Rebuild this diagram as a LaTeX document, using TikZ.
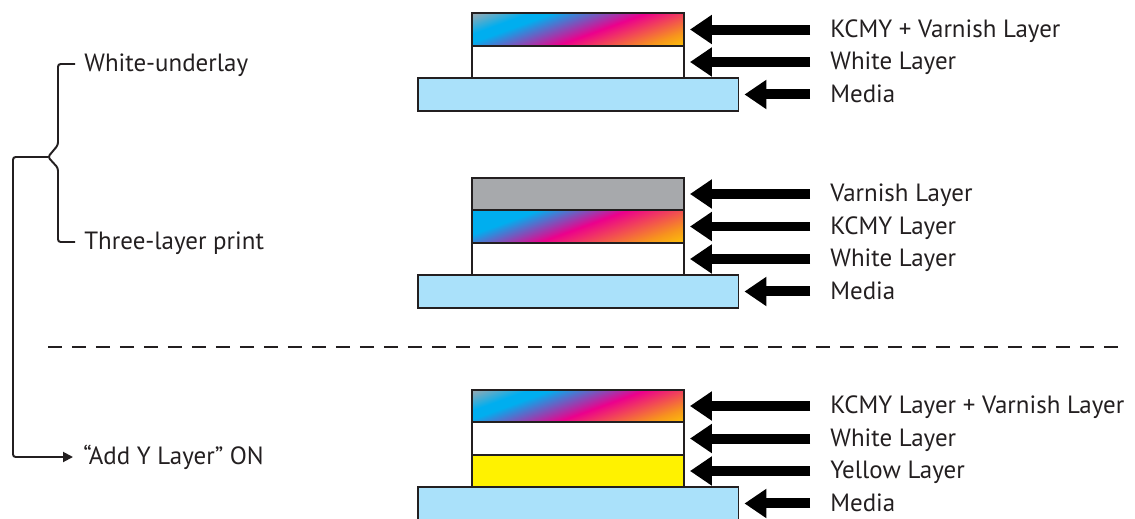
\documentclass[tikz,border=0pt]{standalone}
\usepackage{fontspec}
\setmainfont{PT Sans}
\usepackage{xcolor}
\usetikzlibrary{arrows.meta, positioning, calc}
\definecolor{edgegray}{RGB}{35, 31, 32}
\definecolor{mediablue}{RGB}{170, 225, 250}
\definecolor{varnishgray}{RGB}{167, 169, 172}
\definecolor{inkyellow}{RGB}{255, 242, 0}
\definecolor{gcyan}{RGB}{0, 174, 239}
\definecolor{gmagenta}{RGB}{236, 0, 140}
\definecolor{gorange}{RGB}{247, 148, 29}
\definecolor{gyellow}{RGB}{255, 210, 0}
% KCMY with varnish (grey corner) and plain KCMY
\pgfdeclarehorizontalshading{kcmyvarnish}{100bp}{color(0bp)=(varnishgray); color(17bp)=(varnishgray);
  color(30bp)=(gcyan); color(35bp)=(gcyan); color(55bp)=(gmagenta); color(74bp)=(gorange); color(85bp)=(gyellow); color(100bp)=(gyellow)}
\pgfdeclarehorizontalshading{kcmyplain}{100bp}{color(0bp)=(gcyan); color(32bp)=(gcyan);
  color(51bp)=(gmagenta); color(73bp)=(gorange); color(85bp)=(gyellow); color(100bp)=(gyellow)}

\tikzset{
  layer/.style={draw=edgegray, line width=1.1pt, minimum width=4.24cm, minimum height=0.65cm, inner sep=0pt, outer sep=0pt},
  medialayer/.style={layer, fill=mediablue, minimum width=6.42cm},
  kcmylayer/.style={layer, shading=#1, shading angle=-70},
  kcmylayer/.default=kcmyvarnish,
  lbl/.style={anchor=west, inner sep=0pt, text=edgegray, font=\fontsize{14.2}{16}\selectfont, text height=0.89em, text depth=0pt},
  bigarrow/.style={draw=black, line width=0.2cm, -{Triangle[length=0.44cm, width=0.56cm]}},
  bracket/.style={draw=edgegray, line width=1.1pt, rounded corners=1.5pt},
  divider/.style={draw=edgegray, line width=1.1pt, dash pattern=on 0.28cm off 0.2cm}
}

\begin{document}
\begin{tikzpicture}[x=0.02cm, y=-0.02cm]
    \useasboundingbox (0,0) rectangle (1135,518);
    \coordinate (labx) at (830,0);

    % White-underlay
    \begin{scope}
        \node[kcmylayer] (kcmyA) at (578,29.5) {};
        \node[layer, fill=white, below=0pt of kcmyA] (whiteA) {};
        \node[medialayer, below=0pt of whiteA] (mediaA) {};
        \node[lbl] (tkcmyA) at (kcmyA -| labx) {KCMY + Varnish Layer};
        \node[lbl] (twhiteA) at (whiteA -| labx) {White Layer};
        \node[lbl] (tmediaA) at (mediaA -| labx) {Media};
        \foreach \n in {kcmyA, whiteA, mediaA}
            \draw[bigarrow] ([xshift=-0.4cm]t\n.west) -- ([xshift=0.12cm]\n.east);
    \end{scope}

    % Three-layer print
    \begin{scope}
        \node[layer, fill=varnishgray] (varnishB) at (578,194) {};
        \node[kcmylayer=kcmyplain, below=0pt of varnishB] (kcmyB) {};
        \node[layer, fill=white, below=0pt of kcmyB] (whiteB) {};
        \node[medialayer, below=0pt of whiteB] (mediaB) {};
        \node[lbl] (tvarnishB) at (varnishB -| labx) {Varnish Layer};
        \node[lbl] (tkcmyB) at (kcmyB -| labx) {KCMY Layer};
        \node[lbl] (twhiteB) at (whiteB -| labx) {White Layer};
        \node[lbl] (tmediaB) at (mediaB -| labx) {Media};
        \foreach \n in {varnishB, kcmyB, whiteB, mediaB}
            \draw[bigarrow] ([xshift=-0.4cm]t\n.west) -- ([xshift=0.12cm]\n.east);
    \end{scope}

    \draw[divider] (48,347) -- (1125,347);

    % Add Y Layer
    \begin{scope}
        \node[kcmylayer] (kcmyC) at (578,406) {};
        \node[layer, fill=white, below=0pt of kcmyC] (whiteC) {};
        \node[layer, fill=inkyellow, below=0pt of whiteC] (yellowC) {};
        \node[medialayer, below=0pt of yellowC] (mediaC) {};
        \node[lbl] (tkcmyC) at (kcmyC -| labx) {KCMY Layer + Varnish Layer};
        \node[lbl] (twhiteC) at (whiteC -| labx) {White Layer};
        \node[lbl] (tyellowC) at (yellowC -| labx) {Yellow Layer};
        \node[lbl] (tmediaC) at (mediaC -| labx) {Media};
        \foreach \n in {kcmyC, whiteC, yellowC, mediaC}
            \draw[bigarrow] ([xshift=-0.4cm]t\n.west) -- ([xshift=0.12cm]\n.east);
    \end{scope}

    % Modes
    \node[lbl] (tunder) at (84,64) {White-underlay};
    \node[lbl] (tthree) at (84,242) {Three-layer print};
    \node[lbl] (taddy) at (83,457) {“Add Y Layer” ON};
    \coordinate (notch) at (48,157);
    \draw[bracket] ([xshift=-0.18cm]tunder.west) -| (58,145) -- (notch) -- (58,168) |- ([xshift=-0.18cm]tthree.west);
    \draw[bracket, -{Triangle[length=0.2cm, width=0.2cm]}] (notch) -| (13,300) |- ([xshift=-0.2cm]taddy.west);
\end{tikzpicture}
\end{document}
